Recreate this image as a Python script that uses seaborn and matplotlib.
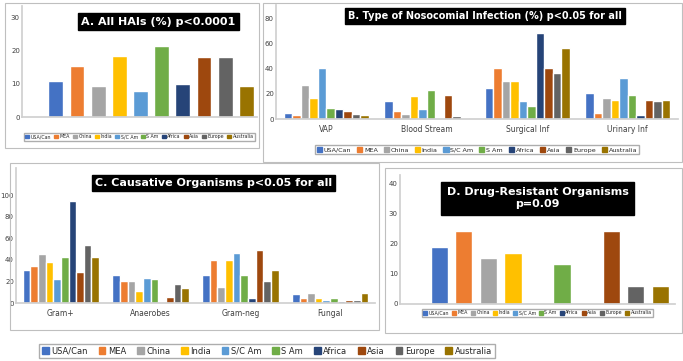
import numpy as np
import pandas as pd
import matplotlib
matplotlib.use("Agg")
import matplotlib.pyplot as plt
import seaborn as sns
from matplotlib.patches import Rectangle

# regions and colours (Office palette)
regions = ["USA/Can", "MEA", "China", "India", "S/C Am", "S Am", "Africa", "Asia", "Europe", "Australia"]
colors = ["#4472C4", "#ED7D31", "#A5A5A5", "#FFC000", "#5B9BD5",
          "#70AD47", "#264478", "#9E480E", "#636363", "#997300"]

# A. all HAIs (%)
all_hai = [10.9, 15.3, 9.2, 18.3, 7.8, 21.4, 9.9, 18.0, 18.0, 9.2]

# B. type of nosocomial infection (%)
inf_types = ["VAP", "Blood Stream", "Surgical Inf", "Urinary Inf"]
vap = [5, 3, 27, 17, 41, 9, 8, 6, 4, 3]
blood = [14, 6, 4, 18, 8, 23, 1, 19, 2, 1]
surgical = [25, 41, 30, 30, 14, 10, 69, 41, 37, 57]
urinary = [21, 5, 17, 15, 33, 19, 3, 15, 14, 15]

# C. causative organisms
organisms = ["Gram+", "Anaerobes", "Gram-neg", "Fungal"]
gram_pos = [31, 34, 45, 38, 22, 43, 94, 29, 54, 43]
anaerobes = [26, 20, 20, 11, 23, 22, 0, 6, 18, 14]
gram_neg = [26, 40, 15, 40, 46, 26, 5, 49, 20, 31]
fungal = [8, 5, 9, 5, 3, 5, 2, 3, 3, 9]

# D. drug-resistant organisms
drug_res = [19, 24.4, 15.4, 17, 0, 13.4, 0, 24.4, 6, 6]

sns.set_theme(style="white")
plt.rcParams["font.family"] = ["DejaVu Sans"]

W, H = 683, 361
fig = plt.figure(figsize=(W / 100, H / 100), dpi=100)
pal = dict(zip(regions, colors))


def ax_px(x0, y0, x1, y1):
    # pixel box -> figure axes
    return fig.add_axes([x0 / W, 1 - y1 / H, (x1 - x0) / W, (y1 - y0) / H])


def frame(x0, y0, x1, y1):
    fig.patches.append(Rectangle((x0 / W, 1 - y1 / H), (x1 - x0) / W, (y1 - y0) / H,
                                 transform=fig.transFigure, fill=False,
                                 edgecolor="#bfbfbf", lw=0.8))


def style(ax):
    for s in ["top", "right"]:
        ax.spines[s].set_visible(False)
    ax.spines["left"].set_color("#d0d0d0")
    ax.spines["bottom"].set_color("#d0d0d0")
    ax.tick_params(axis="both", labelsize=5, length=0, pad=1.5, colors="#404040")
    ax.set_xlabel("")
    ax.set_ylabel("")


def title_box(ax, txt, x, y, fs=6.5, pad=0.3):
    ax.text(x, y, txt, transform=ax.transAxes, ha="center", va="center",
            color="white", fontsize=fs, fontweight="bold",
            bbox=dict(boxstyle=f"square,pad={pad}", facecolor="black", edgecolor="black"))


def small_legend(ax, y, fs=3.5, cs=0.6):
    handles = [Rectangle((0, 0), 1, 1, color=c) for c in colors]
    ax.legend(handles, regions, loc="upper center", bbox_to_anchor=(0.5, y), ncol=10,
              fontsize=fs, frameon=True, handlelength=0.8, handleheight=0.8,
              columnspacing=cs, handletextpad=0.3, borderpad=0.3, edgecolor="#999999",
              fancybox=False)


def grouped(ax, cats, series):
    rows = []
    for cat, vals in zip(cats, series):
        for r, v in zip(regions, vals):
            rows.append({"cat": cat, "region": r, "val": v})
    df = pd.DataFrame(rows)
    sns.barplot(data=df, x="cat", y="val", hue="region", hue_order=regions,
                palette=pal, ax=ax, width=0.85, legend=False, saturation=1)


# --- A
frame(5, 3, 259, 148)
axA = ax_px(22, 6, 257, 117)
dfA = pd.DataFrame({"region": regions, "val": all_hai})
sns.barplot(data=dfA, x="region", y="val", hue="region", palette=pal, ax=axA,
            width=0.7, legend=False, saturation=1)
axA.set_xlim(-1.6, 9.5)
axA.set_ylim(0, 33.3)
axA.set_yticks([0, 10, 20, 30])
axA.set_xticks([])
style(axA)
title_box(axA, "A. All HAIs (%) p<0.0001", 0.58, 0.86, fs=8)
small_legend(axA, -0.12, fs=3.4, cs=0.7)

# --- B
frame(263, 3, 682, 162)
axB = ax_px(276, 5, 678, 119)
grouped(axB, inf_types, [vap, blood, surgical, urinary])
axB.set_ylim(0, 91)
axB.set_yticks([0, 20, 40, 60, 80])
style(axB)
axB.tick_params(axis="x", labelsize=5.5, pad=4)
title_box(axB, "B. Type of Nosocomial Infection (%) p<0.05 for all", 0.52, 0.9, fs=7)
small_legend(axB, -0.2, fs=4.6, cs=0.9)

# --- C
frame(10, 163, 379, 330)
axC = ax_px(16, 168, 375, 303)
grouped(axC, organisms, [gram_pos, anaerobes, gram_neg, fungal])
axC.set_ylim(0, 125)
axC.set_yticks([0, 20, 40, 60, 80, 100])
style(axC)
axC.tick_params(axis="x", labelsize=5.5, pad=4)
title_box(axC, "C. Causative Organisms p<0.05 for all", 0.55, 0.89, fs=8)

# --- D
frame(385, 168, 682, 333)
axD = ax_px(400, 175, 675, 304)
dfD = pd.DataFrame({"region": regions, "val": drug_res})
sns.barplot(data=dfD, x="region", y="val", hue="region", palette=pal, ax=axD,
            width=0.7, legend=False, saturation=1)
axD.set_xlim(-1.6, 9.6)
axD.set_ylim(0, 43)
axD.set_yticks([0, 10, 20, 30, 40])
axD.set_xticks([])
style(axD)
title_box(axD, "D. Drug-Resistant Organisms\np=0.09", 0.5, 0.82, fs=8, pad=0.5)
small_legend(axD, -0.02, fs=3.4, cs=0.7)

# --- bottom legend
handles = [Rectangle((0, 0), 1, 1, color=c) for c in colors]
fig.legend(handles, regions, loc="center", bbox_to_anchor=(267 / W, 1 - 351 / H), ncol=10,
           fontsize=6, frameon=True, handlelength=0.8, handleheight=0.8,
           columnspacing=1.3, handletextpad=0.3, borderpad=0.35, edgecolor="#999999",
           fancybox=False)

fig.savefig("out.png", dpi=100)
